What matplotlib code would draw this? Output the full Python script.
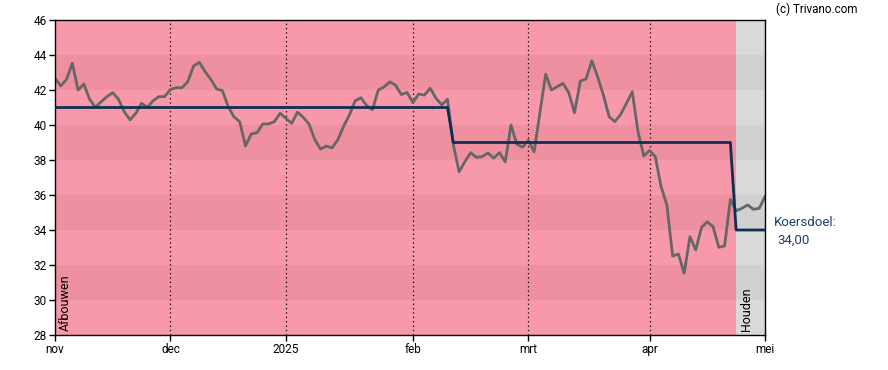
import numpy as np
import matplotlib
matplotlib.use("Agg")
import matplotlib.pyplot as plt

plt.rcParams['font.family'] = ['Roboto', 'DejaVu Sans']

# ---- data ----
price = [42.67, 42.23, 42.61, 43.53, 42.00, 42.34, 41.47, 41.01, 41.33, 41.62,
         41.85, 41.47, 40.76, 40.29, 40.67, 41.24, 41.01, 41.39, 41.62, 41.62,
         42.04, 42.13, 42.13, 42.47, 43.37, 43.58, 43.05, 42.61, 42.06, 41.96,
         41.05, 40.47, 40.19, 38.80, 39.49, 39.56, 40.06, 40.06, 40.19, 40.67,
         40.38, 40.10, 40.73, 40.44, 40.06, 39.17, 38.62, 38.80, 38.69, 39.16,
         39.93, 40.57, 41.38, 41.56, 41.11, 40.87, 42.00, 42.17, 42.47, 42.27,
         41.74, 41.86, 41.27, 41.77, 41.71, 42.10, 41.53, 41.15, 41.47, 38.89,
         37.33, 37.90, 38.42, 38.15, 38.19, 38.40, 38.11, 38.42, 37.89, 40.00,
         38.90, 38.73, 39.13, 38.47, 40.69, 42.90, 42.00, 42.19, 42.38, 41.85,
         40.70, 42.51, 42.63, 43.67, 42.76, 41.71, 40.47, 40.19, 40.61, 41.24,
         41.90, 39.62, 38.23, 38.54, 38.19, 36.47, 35.43, 32.51, 32.63, 31.53,
         33.62, 32.86, 34.15, 34.47, 34.19, 33.01, 33.09, 35.75, 35.10, 35.24,
         35.43, 35.18, 35.24, 35.91]

target_levels = [41.0, 39.0, 34.0]
target_start_idx = [0, 69, 118]

month_labels = ['nov', 'dec', '2025', 'feb', 'mrt', 'apr', 'mei']
month_pos = [0, 20, 40, 62, 82, 103, 123]

advice_labels = ['Afbouwen', 'Houden']
advice_start = [0, 118]
advice_end = [118, 123]

y_ticks = list(range(28, 47, 2))
dark_bands = [(30, 32), (34, 36), (38, 40), (42, 44)]

target_label = 'Koersdoel:'
target_value_text = '34,00'
credit = '(c) Trivano.com'

# ---- derived ----
x = np.arange(len(price))
seg_len = np.diff(target_start_idx + [len(price)])
target = np.repeat(target_levels, seg_len)

fig = plt.figure(figsize=(8.88, 3.70), dpi=100)
ax = fig.add_axes([55 / 888, 1 - 335 / 370, 710 / 888, 315 / 370])

zone_base = ['#F799AB', '#D9D9D9']
zone_dark = ['#EE909F', '#D0D0D0']
for i in range(len(advice_labels)):
    x0, x1 = advice_start[i], advice_end[i]
    ax.fill_between([x0, x1], 28, 46, color=zone_base[i], lw=0, zorder=0)
    for (b0, b1) in dark_bands:
        ax.fill_between([x0, x1], b0, b1, color=zone_dark[i], lw=0, zorder=0.5)

for p in month_pos[1:-1]:
    ax.axvline(p, color='black', lw=0.9, ls=(0, (1, 2.5)), zorder=1)

ax.plot(x, price, color='#666666', lw=2, zorder=2, solid_joinstyle='round')
ax.plot(x, target, color='#0E2F52', lw=2, zorder=3)

ax.set_xlim(0, 123)
ax.set_ylim(28, 46)
ax.set_yticks(y_ticks)
ax.set_yticklabels([str(v) for v in y_ticks])
ax.set_xticks(month_pos)
ax.set_xticklabels(month_labels)
ax.tick_params(axis='both', labelsize=8.5, length=4, width=1, colors='black', pad=2)
for s in ax.spines.values():
    s.set_linewidth(1)
    s.set_color('black')

ax.text(advice_start[0] + 0.6, 28.25, advice_labels[0], rotation=90, fontsize=9,
        ha='left', va='bottom', color='black', zorder=4)
ax.text(advice_start[1] + 0.6, 28.25, advice_labels[1], rotation=90, fontsize=9,
        ha='left', va='bottom', color='black', zorder=4)

fig.text(774 / 888, 1 - 222 / 370, target_label, fontsize=9.5, color='#1F3F66',
         ha='left', va='center')
fig.text(777 / 888, 1 - 240 / 370, target_value_text, fontsize=9.5, color='#1F3F66',
         ha='left', va='center')
fig.text(857 / 888, 1 - 9 / 370, credit, fontsize=8.4, color='black',
         ha='right', va='center')

fig.savefig('out.png', dpi=100)
